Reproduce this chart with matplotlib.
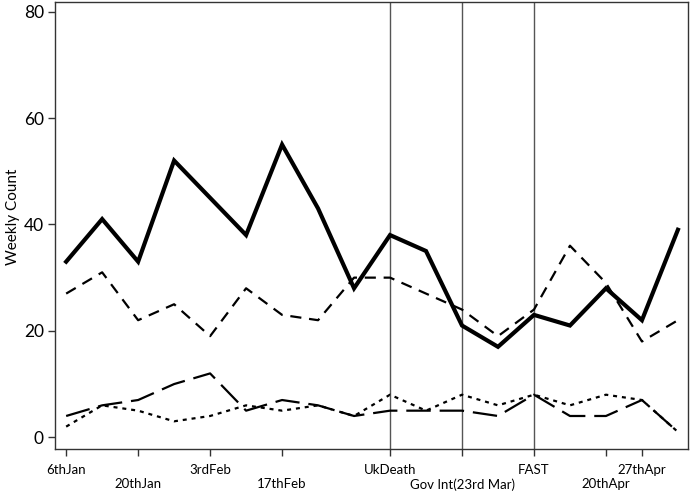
import matplotlib
matplotlib.use("Agg")
import matplotlib.pyplot as plt
import numpy as np

plt.rcParams['font.family'] = ['Lato', 'DejaVu Sans']

# weekly counts, weeks starting 6 Jan
weeks = np.arange(18)
total = [33, 41, 33, 52, 45, 38, 55, 43, 28, 38, 35, 21, 17, 23, 21, 28, 22, 39]
series_b = [27, 31, 22, 25, 19, 28, 23, 22, 30, 30, 27, 24, 19, 24, 36, 29, 18, 22]
series_c = [4, 6, 7, 10, 12, 5, 7, 6, 4, 5, 5, 5, 4, 8, 4, 4, 7, 1]
series_d = [2, 6, 5, 3, 4, 6, 5, 6, 4, 8, 5, 8, 6, 8, 6, 8, 7, 1]

# upper-row and lower-row x labels
top_weeks = [0, 4, 9, 13, 16]
top_labels = ["6thJan", "3rdFeb", "UkDeath", "FAST", "27thApr"]
low_weeks = [2, 6, 11, 15]
low_labels = ["20thJan", "17thFeb", "Gov Int(23rd Mar)", "20thApr"]
event_weeks = [9, 11, 13]

fig = plt.figure(figsize=(6.9, 4.93), dpi=100)
ax = fig.add_axes([55/690, 43.7/493, 633/690, 447.3/493])

for w in event_weeks:
    ax.axvline(w, color='#555555', lw=1.0, zorder=1)

ax.plot(weeks, total, color='black', lw=3.0, solid_joinstyle='miter', zorder=3)
ax.plot(weeks, series_b, color='black', lw=1.6, dashes=(5, 3.5), zorder=2)
ax.plot(weeks, series_c, color='black', lw=1.6, dashes=(11, 4), zorder=2)
ax.plot(weeks, series_d, color='black', lw=1.6, dashes=(1.8, 2.2), zorder=2)

ax.set_xlim(-0.31, 17.28)
ax.set_ylim(-2.26, 81.8)

ax.set_yticks([0, 20, 40, 60, 80])
ax.tick_params(axis='y', labelsize=12.5, length=5, width=1, color='#333333', pad=3)
ax.set_ylabel("Weekly Count", fontsize=11, labelpad=3)
ax.yaxis.label.set_y(0.52)

ax.set_xticks(top_weeks)
ax.set_xticklabels(top_labels, fontsize=9.5)
ax.set_xticks(low_weeks, minor=True)
ax.set_xticklabels(low_labels, minor=True, fontsize=9.5)
ax.tick_params(axis='x', which='major', length=4.8, width=1, color='#333333', pad=5.5)
ax.tick_params(axis='x', which='minor', length=4.8, width=1, color='#333333', pad=16)

for s in ax.spines.values():
    s.set_color('#333333')
    s.set_linewidth(1.0)

fig.savefig("out.png", dpi=100)
